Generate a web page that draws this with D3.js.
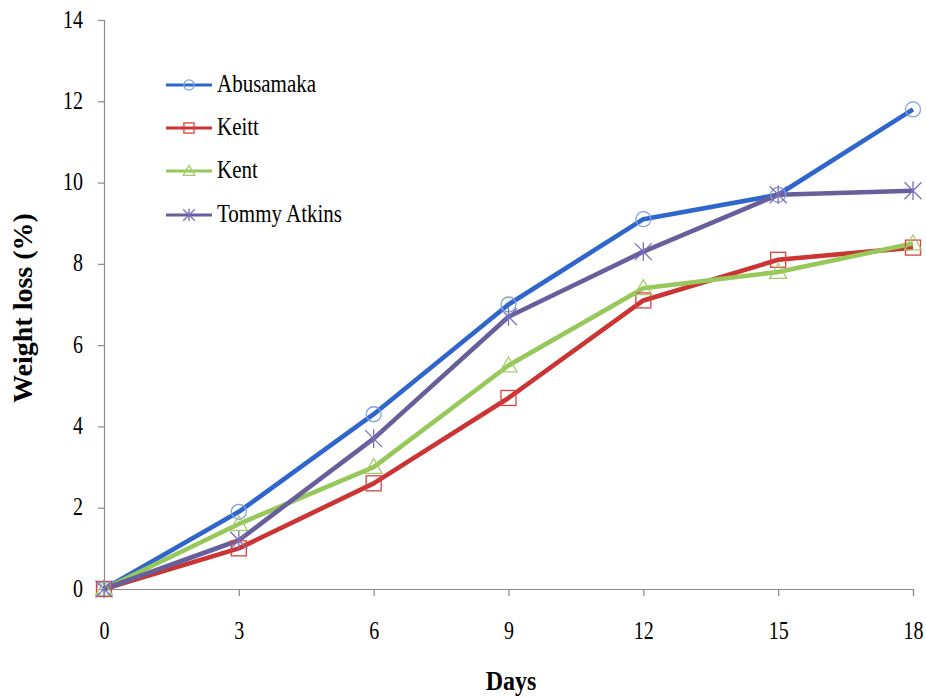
<!DOCTYPE html>
<html>
<head>
<meta charset="utf-8">
<script src="https://cdn.jsdelivr.net/npm/d3@7"></script>
<style>
  html, body { margin: 0; padding: 0; background: #fff; }
  svg { display: block; }
</style>
</head>
<body>
<svg id="chart" width="926" height="698"></svg>
<script>
const days = [0, 3, 6, 9, 12, 15, 18];
const xTicks = [0, 3, 6, 9, 12, 15, 18];
const yTicks = [0, 2, 4, 6, 8, 10, 12, 14];
const seriesNames = ["Abusamaka", "Keitt", "Kent", "Tommy Atkins"];
const abusamaka = [0, 1.9, 4.3, 7.0, 9.1, 9.7, 11.8];
const keitt = [0, 1.0, 2.6, 4.7, 7.1, 8.1, 8.4];
const kent = [0, 1.6, 3.0, 5.5, 7.4, 7.8, 8.5];
const tommyAtkins = [0, 1.2, 3.7, 6.7, 8.3, 9.7, 9.8];

const FONT = '"Liberation Serif", "Times New Roman", "DejaVu Serif", serif';

const series = [
  { name: seriesNames[0], values: abusamaka, line: "#2F66CC", marker: "#7FA2DC", shape: "circle" },
  { name: seriesNames[1], values: keitt, line: "#CC3333", marker: "#D9423F", shape: "square" },
  { name: seriesNames[2], values: kent, line: "#96C85A", marker: "#A6CC6A", shape: "triangle" },
  { name: seriesNames[3], values: tommyAtkins, line: "#675E9C", marker: "#7A70B8", shape: "star" }
];

const svg = d3.select("#chart");
const x = d3.scaleLinear().domain([0, 18]).range([104, 913]);
const y = d3.scaleLinear().domain([0, 14]).range([589, 20]);

const xAxis = svg.append("g").attr("transform", `translate(0,${y(0)})`)
  .call(d3.axisBottom(x).tickValues(xTicks).tickSize(7).tickFormat(() => ""));
const yAxis = svg.append("g").attr("transform", `translate(${x(0)},0)`)
  .call(d3.axisLeft(y).tickValues(yTicks).tickSize(6).tickFormat(() => ""));
[xAxis, yAxis].forEach(g => {
  g.select(".domain").attr("stroke", "#8a8a8a").attr("stroke-width", 1.2);
  g.selectAll(".tick line").attr("stroke", "#8a8a8a").attr("stroke-width", 1.2);
  g.selectAll(".tick text").remove();
});
xAxis.selectAll(".tick").append("text")
  .attr("transform", "translate(0,50) scale(1,1.22)")
  .attr("text-anchor", "middle").attr("font-family", FONT).attr("font-size", 20).attr("fill", "#000")
  .text(d => d);
yAxis.selectAll(".tick").append("text")
  .attr("transform", "translate(-21,7) scale(1,1.22)")
  .attr("text-anchor", "end").attr("font-family", FONT).attr("font-size", 20).attr("fill", "#000")
  .text(d => d);

svg.append("text").attr("transform", "translate(511,690) scale(1,1.1)").attr("text-anchor", "middle")
  .attr("font-family", FONT).attr("font-size", 24).attr("font-weight", "bold").text("Days");
svg.append("text").attr("transform", "translate(32,308) rotate(-90)").attr("text-anchor", "middle")
  .attr("font-family", FONT).attr("font-size", 28).attr("font-weight", "bold").text("Weight loss (%)");

function drawMarker(g, shape, cx, cy, color, s) {
  if (shape === "circle") {
    g.append("circle").attr("cx", cx).attr("cy", cy).attr("r", 7.5 * s)
      .attr("fill", "none").attr("stroke", color).attr("stroke-width", 1.3);
  } else if (shape === "square") {
    const h = 7.5 * s;
    g.append("rect").attr("x", cx - h).attr("y", cy - h).attr("width", 2 * h).attr("height", 2 * h)
      .attr("fill", "none").attr("stroke", color).attr("stroke-width", 1.3);
  } else if (shape === "triangle") {
    const h = 8.5 * s;
    g.append("path").attr("d", `M${cx},${cy - h}L${cx + h},${cy + h * 0.75}L${cx - h},${cy + h * 0.75}Z`)
      .attr("fill", "none").attr("stroke", color).attr("stroke-width", 1.3);
  } else if (shape === "star") {
    const h = 8.5 * s;
    const d = `M${cx - h},${cy - h}L${cx + h},${cy + h}M${cx + h},${cy - h}L${cx - h},${cy + h}M${cx},${cy - h * 1.1}L${cx},${cy + h * 1.1}`;
    g.append("path").attr("d", d).attr("fill", "none").attr("stroke", color).attr("stroke-width", 1.3);
  }
}

const line = d3.line().x((d, i) => x(days[i])).y(d => y(d));

series.forEach(s => {
  svg.append("path").datum(s.values).attr("d", line)
    .attr("fill", "none").attr("stroke", s.line).attr("stroke-width", 4.6)
    .attr("stroke-linejoin", "round");
});
series.forEach(s => {
  const g = svg.append("g");
  s.values.forEach((v, i) => drawMarker(g, s.shape, x(days[i]), y(v), s.marker, 1));
});

const legendY = [85, 128, 171, 215];
series.forEach((s, i) => {
  const g = svg.append("g");
  const ly = legendY[i];
  g.append("line").attr("x1", 166).attr("x2", 212).attr("y1", ly).attr("y2", ly)
    .attr("stroke", s.line).attr("stroke-width", 3);
  drawMarker(g, s.shape, 189, ly, s.marker, 0.68);
  g.append("text").attr("transform", `translate(217,${ly + 7}) scale(1,1.15)`)
    .attr("font-family", FONT).attr("font-size", 21).attr("fill", "#000").text(s.name);
});
</script>
</body>
</html>
